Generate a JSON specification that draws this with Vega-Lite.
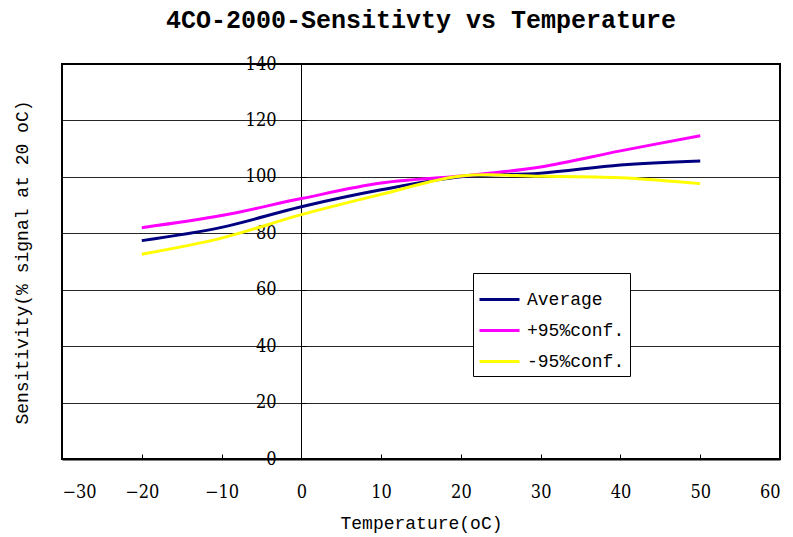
{
  "$schema": "https://vega.github.io/schema/vega-lite/v6.json",
  "width": 718,
  "height": 395,
  "autosize": {"type": "none"},
  "padding": {"left": 62, "top": 64, "right": 13, "bottom": 78},
  "background": "white",
  "title": {
    "text": "4CO-2000-Sensitivty vs Temperature",
    "font": "Liberation Mono",
    "fontSize": 25,
    "fontWeight": "bold",
    "color": "#000",
    "anchor": "middle",
    "offset": 22
  },
  "config": {
    "view": {"stroke": "#000", "strokeWidth": 2},
    "axis": {
      "labelFont": "DejaVu Serif Condensed",
      "labelFontSize": 18,
      "labelColor": "#000",
      "titleFont": "Liberation Mono",
      "titleFontSize": 18,
      "titleFontWeight": "normal",
      "titleColor": "#000",
      "domainColor": "#000",
      "tickColor": "#000"
    }
  },
  "data": {
    "values": [
      {"series": "Average", "t": -20, "v": 77.4},
      {"series": "Average", "t": -10, "v": 82.1},
      {"series": "Average", "t": 0, "v": 89.4},
      {"series": "Average", "t": 10, "v": 95.4},
      {"series": "Average", "t": 20, "v": 100},
      {"series": "Average", "t": 30, "v": 101.3},
      {"series": "Average", "t": 40, "v": 104.2},
      {"series": "Average", "t": 50, "v": 105.6},
      {"series": "+95%conf.", "t": -20, "v": 82.0},
      {"series": "+95%conf.", "t": -10, "v": 86.3},
      {"series": "+95%conf.", "t": 0, "v": 92.3},
      {"series": "+95%conf.", "t": 10, "v": 97.8},
      {"series": "+95%conf.", "t": 20, "v": 100.3},
      {"series": "+95%conf.", "t": 30, "v": 103.5},
      {"series": "+95%conf.", "t": 40, "v": 109.2},
      {"series": "+95%conf.", "t": 50, "v": 114.6},
      {"series": "-95%conf.", "t": -20, "v": 72.6},
      {"series": "-95%conf.", "t": -10, "v": 78.3},
      {"series": "-95%conf.", "t": 0, "v": 86.6},
      {"series": "-95%conf.", "t": 10, "v": 93.8},
      {"series": "-95%conf.", "t": 20, "v": 100.3},
      {"series": "-95%conf.", "t": 30, "v": 100.2},
      {"series": "-95%conf.", "t": 40, "v": 99.7},
      {"series": "-95%conf.", "t": 50, "v": 97.6}
    ]
  },
  "mark": {"type": "line", "strokeWidth": 3, "interpolate": "catmull-rom"},
  "encoding": {
    "x": {
      "field": "t",
      "type": "quantitative",
      "scale": {"domain": [-30, 60], "nice": false, "zero": false},
      "axis": {
        "title": "Temperature(oC)",
        "values": [-30, -20, -10, 0, 10, 20, 30, 40, 50, 60],
        "grid": false,
        "tickSize": -5,
        "labelPadding": 29,
        "titlePadding": 13,
        "domainWidth": 2
      }
    },
    "y": {
      "field": "v",
      "type": "quantitative",
      "scale": {"domain": [0, 140], "nice": false},
      "axis": {
        "title": "Sensitivity(% signal at 20 oC)",
        "values": [0, 20, 40, 60, 80, 100, 120, 140],
        "offset": -239,
        "grid": true,
        "gridColor": "#000",
        "gridOpacity": 0.85,
        "gridWidth": 1,
        "tickSize": -5,
        "labelPadding": 30,
        "titleX": -279,
        "titleY": 198,
        "titleAngle": -90,
        "titleAlign": "center",
        "titleBaseline": "middle"
      }
    },
    "color": {
      "field": "series",
      "type": "nominal",
      "scale": {
        "domain": ["Average", "+95%conf.", "-95%conf."],
        "range": ["#000080", "#FF00FF", "#FFFF00"]
      },
      "legend": {
        "title": null,
        "orient": "none",
        "legendX": 411,
        "legendY": 209,
        "symbolType": "stroke",
        "symbolSize": 1600,
        "symbolStrokeWidth": 3,
        "labelFont": "Liberation Mono",
        "labelFontSize": 18,
        "labelColor": "#000",
        "labelOffset": 6,
        "strokeColor": "#000",
        "fillColor": "white",
        "padding": 5,
        "rowPadding": -2
      }
    }
  }
}
